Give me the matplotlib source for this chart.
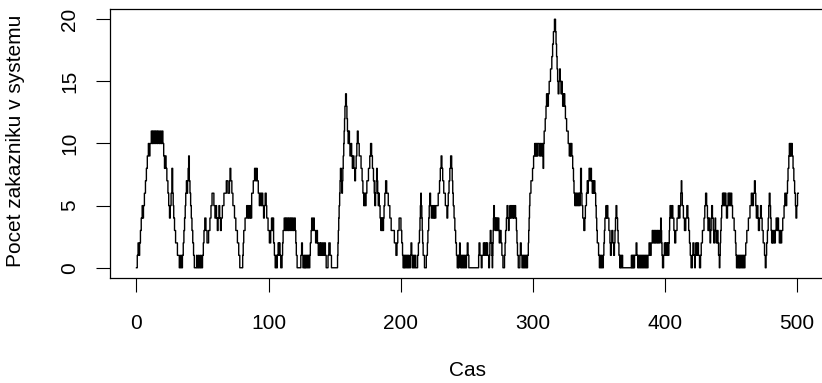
import matplotlib
matplotlib.use('Agg')
import matplotlib.pyplot as plt

# (cas, pocet zakazniku), step changes
usek1 = [(0, 0), (0.6, 1), (1.2, 2), (1.8, 1), (2.4, 2), (3.0, 3), (3.6, 4), (4.3, 5), (4.8, 4), (5.3, 5),
         (6.0, 6), (6.8, 7), (7.5, 8), (8.2, 9), (9.0, 10), (9.6, 9), (10.2, 10), (11.2, 11), (11.8, 10),
         (12.4, 11), (13.0, 10), (13.6, 11), (14.4, 10), (15.0, 11), (15.8, 10), (16.4, 11), (17.2, 10),
         (18.0, 11), (18.6, 10), (19.4, 11), (20.0, 10), (20.6, 9), (21.2, 8), (21.8, 9), (22.4, 8), (23.0, 7),
         (23.8, 6), (24.4, 5), (25.0, 4), (25.6, 5), (26.2, 6), (26.8, 8), (27.4, 6), (27.8, 5), (28.2, 4),
         (28.8, 3), (29.6, 2), (31.0, 1), (32.4, 0), (33.4, 1), (34.0, 0), (34.8, 1), (35.4, 2), (35.9, 3),
         (36.4, 4), (36.9, 5), (37.3, 6), (37.8, 7), (38.3, 6), (38.7, 7), (39.1, 8), (39.5, 9), (40.0, 7),
         (40.5, 6), (41.0, 5), (41.5, 4), (42.0, 3), (42.6, 2), (43.2, 1), (43.8, 0), (45.5, 1), (46.0, 0),
         (47.0, 1), (47.5, 0), (48.5, 1), (49.0, 0), (50.0, 1), (50.6, 2), (51.1, 3), (51.7, 4), (52.6, 3),
         (53.4, 2), (54.6, 3), (55.6, 4), (56.4, 5), (57.2, 6), (58.6, 5), (59.4, 4), (60.0, 5), (60.6, 4),
         (61.2, 3), (61.8, 4), (62.4, 5), (63.0, 4), (63.6, 3), (64.2, 4), (65.0, 5), (66.2, 6), (68.0, 7),
         (69.2, 6), (70.4, 7), (70.8, 8), (71.4, 7), (72.2, 6), (73.0, 5), (74.2, 4), (75.2, 3), (76.4, 2),
         (77.4, 1), (78.2, 0), (80.4, 1), (80.8, 2), (81.2, 3), (82.2, 4), (83.4, 5), (84.2, 4), (84.8, 5),
         (85.4, 4), (86.0, 5), (86.6, 4)]

usek2 = [(87.2, 6), (88.4, 7), (89.4, 8), (90.2, 7), (90.8, 8), (91.4, 7), (92.2, 6), (93.0, 5), (93.6, 6),
         (94.4, 5), (95.0, 6), (95.6, 5), (96.2, 4), (96.8, 5), (97.4, 6), (98.2, 5), (98.6, 4), (99.6, 3),
         (100.6, 2), (101.6, 3), (102.2, 4), (102.8, 3), (103.4, 4), (103.8, 2), (104.4, 1), (105.0, 0),
         (105.6, 1), (106.2, 0), (106.6, 1), (107.2, 2), (107.8, 1), (108.2, 2), (108.6, 1), (109.2, 0),
         (110.2, 1), (110.6, 2), (111.0, 3), (111.8, 4), (112.4, 3), (113.0, 4), (113.6, 3), (114.2, 4),
         (114.8, 3), (115.4, 4), (116.0, 3), (116.6, 4), (117.4, 3), (118.0, 4), (118.6, 3), (119.4, 4),
         (120.2, 3), (120.6, 2), (121.0, 1), (121.6, 0), (124.4, 1), (125.0, 2), (125.6, 1), (126.0, 0),
         (126.8, 1), (127.2, 0), (127.8, 1), (128.2, 0), (128.8, 1), (129.4, 0), (130.0, 1), (130.6, 0),
         (131.2, 1), (131.6, 2), (132.2, 3), (132.6, 4), (133.2, 3), (134.0, 4), (134.6, 3), (135.6, 2),
         (136.4, 3), (137.0, 2), (137.6, 1), (138.4, 2), (139.0, 1), (139.6, 2), (140.2, 1), (141.0, 2),
         (141.6, 1), (142.4, 2), (143.0, 1), (143.6, 0), (145.0, 1), (145.6, 2), (146.6, 1), (147.6, 0)]

usek3 = [(152.2, 1), (152.5, 2), (152.8, 3), (153.1, 4), (153.4, 5), (153.8, 6), (154.1, 7), (154.4, 8),
         (155.0, 7), (155.5, 6), (155.9, 7), (156.2, 8), (156.5, 9), (156.9, 10), (157.2, 11), (157.5, 12),
         (157.8, 13), (158.3, 14), (158.9, 13), (159.3, 12), (159.7, 11), (160.2, 10), (160.8, 11), (161.2, 10),
         (161.6, 9), (162.4, 10), (162.9, 9), (163.4, 8), (164.0, 9), (164.6, 8), (165.2, 7), (165.8, 8),
         (166.3, 9), (166.8, 10), (167.2, 11), (167.8, 10), (168.6, 9), (170.0, 8), (170.8, 7), (171.4, 6),
         (172.0, 5), (172.6, 6), (173.2, 5), (173.8, 6), (174.4, 7), (175.6, 8), (176.6, 9), (177.2, 10),
         (178.0, 9), (178.6, 8), (179.4, 7), (180.0, 6), (180.4, 5), (181.0, 6), (181.4, 7), (181.8, 8),
         (182.2, 7), (182.6, 6), (183.0, 5), (183.4, 6), (183.8, 5), (184.4, 4), (185.0, 3), (185.4, 4),
         (185.8, 3), (186.2, 4), (186.6, 3), (187.0, 4), (187.4, 5), (188.0, 6), (188.6, 7), (189.4, 6),
         (190.6, 5), (191.8, 4), (192.8, 3), (195.2, 2), (196.4, 1), (197.2, 2), (197.8, 3), (198.8, 4),
         (200.2, 3), (200.8, 2), (201.4, 1), (201.8, 0), (202.4, 1), (202.8, 0), (203.4, 1), (204.0, 0),
         (204.6, 1), (205.2, 0), (205.8, 1), (206.4, 0), (207.4, 1), (207.8, 2), (208.4, 1), (208.8, 0),
         (209.6, 1), (210.2, 0), (210.8, 1), (211.4, 0), (212.8, 1), (213.4, 2), (214.2, 3), (214.6, 4),
         (214.9, 5), (215.2, 6), (215.6, 5), (216.0, 4), (216.3, 3), (216.6, 2), (217.0, 1), (218.0, 0)]

usek4 = [(219.4, 1), (220.2, 2), (220.6, 3), (221.2, 4), (221.6, 5), (222.0, 6), (222.6, 5), (223.2, 4),
         (224.2, 5), (224.8, 4), (225.4, 5), (226.0, 4), (226.6, 5), (228.4, 6), (229.4, 7), (230.0, 8),
         (230.6, 9), (231.2, 8), (231.8, 7), (232.6, 6), (233.8, 5), (235.0, 4), (235.6, 5), (236.0, 6),
         (236.6, 7), (237.2, 8), (237.8, 9), (238.6, 8), (239.0, 7), (239.4, 6), (239.8, 5), (240.4, 4),
         (241.0, 3), (241.6, 2), (242.2, 1), (242.8, 0), (243.4, 1), (243.8, 0), (244.2, 1), (244.6, 2),
         (245.0, 1), (245.4, 0), (246.0, 1), (246.6, 0), (247.2, 1), (247.8, 0), (248.4, 1), (249.0, 0),
         (249.8, 1), (250.4, 2), (251.0, 1), (251.6, 0), (259.0, 1), (259.3, 2), (260.0, 1), (261.0, 0),
         (261.6, 1), (262.6, 2), (263.4, 1), (264.0, 2), (264.6, 1), (265.2, 2), (265.8, 1), (266.6, 0),
         (267.2, 1), (267.5, 2), (267.8, 3), (268.4, 2), (269.0, 1), (269.3, 0), (269.6, 1), (269.8, 2),
         (270.0, 3), (270.2, 4), (270.4, 5), (270.9, 4), (271.4, 3), (271.8, 4), (272.3, 3), (272.8, 4),
         (273.3, 3), (273.8, 4), (274.3, 3), (274.6, 2), (275.1, 3), (276.0, 2), (276.6, 1), (277.4, 0),
         (278.6, 1), (279.0, 2), (279.4, 3), (280.0, 4), (280.5, 5), (281.2, 4), (281.6, 3), (282.0, 4),
         (282.6, 5), (283.2, 4), (283.8, 5), (284.6, 4), (285.2, 5), (285.6, 4), (286.2, 5), (287.0, 4),
         (287.6, 3), (288.0, 2), (288.4, 1), (289.0, 0), (290.2, 1), (290.6, 2), (291.2, 1), (291.8, 0),
         (292.4, 1), (293.0, 0), (293.6, 1), (294.2, 0), (294.8, 1), (295.4, 0), (296.0, 1)]

usek5 = [(296.6, 2), (296.9, 3), (297.2, 4), (297.5, 5), (297.8, 6), (298.6, 7), (299.8, 8), (300.6, 9),
         (301.4, 10), (301.8, 9), (302.2, 10), (302.6, 9), (303.0, 10), (303.4, 9), (303.8, 10), (305.0, 9),
         (305.6, 10), (306.2, 9), (306.8, 10), (307.4, 9), (307.8, 8), (308.2, 10), (308.6, 11), (309.4, 12),
         (310.0, 13), (310.4, 14), (311.0, 13), (311.8, 14), (312.4, 15), (313.4, 16), (314.4, 17),
         (315.0, 18), (315.6, 19), (316.4, 20), (317.2, 19), (317.6, 18), (318.0, 17), (318.4, 16),
         (318.8, 15), (319.2, 14), (319.8, 15), (320.3, 16), (320.8, 15), (321.4, 14), (321.8, 15),
         (322.2, 14), (322.6, 13), (323.0, 14), (323.4, 13), (323.8, 14), (324.2, 13), (324.7, 12),
         (325.6, 11), (326.8, 10), (327.6, 9), (328.2, 10), (328.6, 9), (329.0, 10), (329.6, 9), (330.2, 8),
         (330.8, 7), (331.2, 6), (331.8, 5), (332.4, 6), (333.0, 5), (333.6, 6), (334.2, 5), (334.8, 6),
         (335.4, 5), (335.8, 6), (336.2, 8), (336.8, 6), (337.2, 5), (337.8, 4), (338.6, 3), (339.4, 4),
         (339.8, 5), (340.6, 6), (341.2, 7), (341.6, 6), (342.0, 7), (342.6, 8), (343.2, 7), (343.8, 8),
         (344.4, 7), (345.0, 6), (345.4, 7), (345.8, 6), (346.4, 7), (347.0, 6), (347.6, 5), (348.0, 4),
         (348.4, 3), (348.8, 2), (349.8, 1), (350.4, 0), (350.8, 1), (351.4, 0), (352.0, 1), (352.6, 0),
         (353.4, 1), (353.8, 2), (354.2, 3), (354.6, 4), (355.4, 5), (355.8, 4), (356.2, 5), (356.8, 4),
         (357.6, 3), (358.4, 2), (358.8, 1), (359.4, 2), (359.8, 3), (360.6, 2), (361.2, 1), (361.8, 2),
         (362.2, 3), (362.6, 4), (363.0, 5), (363.6, 4), (364.2, 3), (364.6, 2), (365.2, 1), (365.8, 0),
         (366.4, 1), (366.8, 0), (367.4, 1), (368.0, 0)]

usek6 = [(374.6, 1), (375.0, 0), (375.4, 1), (375.8, 0), (376.2, 1), (376.6, 0), (377.0, 1), (378.2, 2),
         (378.8, 1), (379.4, 0), (380.0, 1), (380.6, 0), (381.2, 1), (381.8, 0), (382.4, 1), (383.0, 0),
         (383.6, 1), (384.2, 0), (384.8, 1), (385.4, 0), (386.0, 1), (386.6, 0), (387.2, 1), (388.0, 2),
         (388.8, 1), (389.6, 2), (390.4, 3), (391.0, 2), (391.6, 3), (392.2, 2), (392.8, 3), (393.4, 2),
         (394.0, 3), (394.6, 2), (395.2, 3), (395.8, 2), (396.4, 3), (396.8, 4), (397.2, 3), (397.5, 2),
         (397.8, 1), (398.2, 0), (399.0, 1), (399.6, 2), (400.4, 1), (400.8, 2), (401.4, 1), (402.0, 2),
         (402.6, 1), (403.0, 2), (403.3, 3), (403.6, 4), (403.9, 5), (404.8, 4), (405.4, 5), (406.0, 4),
         (406.8, 3), (407.4, 2), (408.2, 3), (409.2, 4), (410.2, 5), (410.8, 4), (411.4, 5), (412.0, 6),
         (412.4, 7), (412.8, 6), (413.2, 5), (414.0, 4), (414.8, 3), (415.8, 4), (416.6, 5), (417.4, 4),
         (418.0, 3), (418.6, 2), (419.2, 1), (419.8, 0), (420.8, 1), (421.2, 2), (422.0, 1), (422.6, 0),
         (423.0, 1), (423.4, 2), (424.0, 1), (424.6, 2), (425.4, 1), (426.2, 0), (427.0, 1), (427.5, 2),
         (428.4, 3), (429.6, 4), (430.2, 5), (430.8, 6), (431.6, 5), (432.2, 4), (432.6, 3), (433.2, 4),
         (433.8, 3), (434.2, 2), (434.6, 3), (435.0, 4), (435.4, 5), (436.0, 4), (436.6, 3), (437.0, 2),
         (437.6, 3), (438.0, 4), (438.4, 3), (438.8, 2), (439.6, 3), (440.2, 2), (440.6, 1), (441.2, 0)]

usek7 = [(441.6, 1), (441.9, 2), (442.2, 3), (442.6, 4), (443.0, 5), (443.6, 6), (444.2, 5), (444.6, 6),
         (445.2, 5), (445.6, 6), (446.2, 5), (446.6, 4), (447.4, 5), (447.8, 6), (448.4, 5), (448.8, 6),
         (449.6, 5), (450.2, 6), (450.6, 5), (451.2, 4), (452.4, 3), (453.4, 2), (453.8, 1), (454.2, 0),
         (454.8, 1), (455.4, 0), (456.0, 1), (456.4, 0), (457.0, 1), (457.6, 0), (458.2, 1), (458.8, 0),
         (459.4, 1), (460.0, 0), (460.6, 1), (461.2, 2), (462.0, 3), (463.2, 4), (464.4, 5), (465.4, 6),
         (466.2, 5), (467.0, 6), (467.8, 7), (468.4, 6), (468.8, 5), (469.2, 4), (469.8, 5), (470.4, 4),
         (470.8, 3), (471.6, 4), (472.4, 5), (473.0, 4), (473.6, 3), (474.4, 2), (475.4, 1), (476.0, 0),
         (476.6, 1), (477.0, 2), (477.6, 3), (478.2, 4), (478.6, 5), (479.0, 6), (479.6, 5), (480.0, 4),
         (480.4, 3), (480.8, 2), (481.4, 3), (481.8, 2), (482.4, 3), (483.0, 2), (483.6, 3), (484.2, 4),
         (484.8, 3), (485.4, 4), (486.0, 3), (486.6, 2), (487.2, 3), (487.8, 2), (488.4, 3), (489.2, 4),
         (490.2, 5), (490.8, 6), (491.4, 5), (492.2, 6), (492.8, 7), (493.2, 8), (493.8, 9), (494.2, 10),
         (494.6, 9), (495.0, 10), (495.4, 9), (495.8, 10), (496.4, 9), (497.0, 8), (497.6, 7), (498.2, 6),
         (498.8, 5), (499.2, 4), (499.8, 5), (500.4, 6), (501.0, 6)]

data = usek1 + usek2 + usek3 + usek4 + usek5 + usek6 + usek7
cas = [d[0] for d in data]
pocet = [d[1] for d in data]

plt.rcParams['font.family'] = ['Liberation Sans', 'DejaVu Sans']

W, H = 822, 383
fig = plt.figure(figsize=(W / 100, H / 100), dpi=100)
ax = fig.add_axes([110 / W, 1 - 277.7 / H, (824.8 - 110) / W, (277.7 - 9.3) / H])

ax.plot(cas, pocet, drawstyle='steps-post', color='black', lw=1.0)

ax.set_xlim(-20.04, 521.04)
ax.set_ylim(-0.8, 20.8)
ax.set_xticks([0, 100, 200, 300, 400, 500])
ax.set_yticks([0, 5, 10, 15, 20])
ax.tick_params(direction='out', length=10, width=0.8, labelsize=15)
ax.tick_params(axis='x', pad=16)
ax.tick_params(axis='y', pad=12)
for lab in ax.get_yticklabels():
    lab.set_rotation(90)
    lab.set_va('center')
for sp in ax.spines.values():
    sp.set_linewidth(0.9)

fig.text(16 / W, 1 - 141 / H, 'Pocet zakazniku v systemu', rotation=90,
         ha='center', va='center', fontsize=15)
fig.text(467 / W, 1 - 370 / H, 'Cas', ha='center', va='center', fontsize=15)

plt.savefig('out.png', dpi=100)
